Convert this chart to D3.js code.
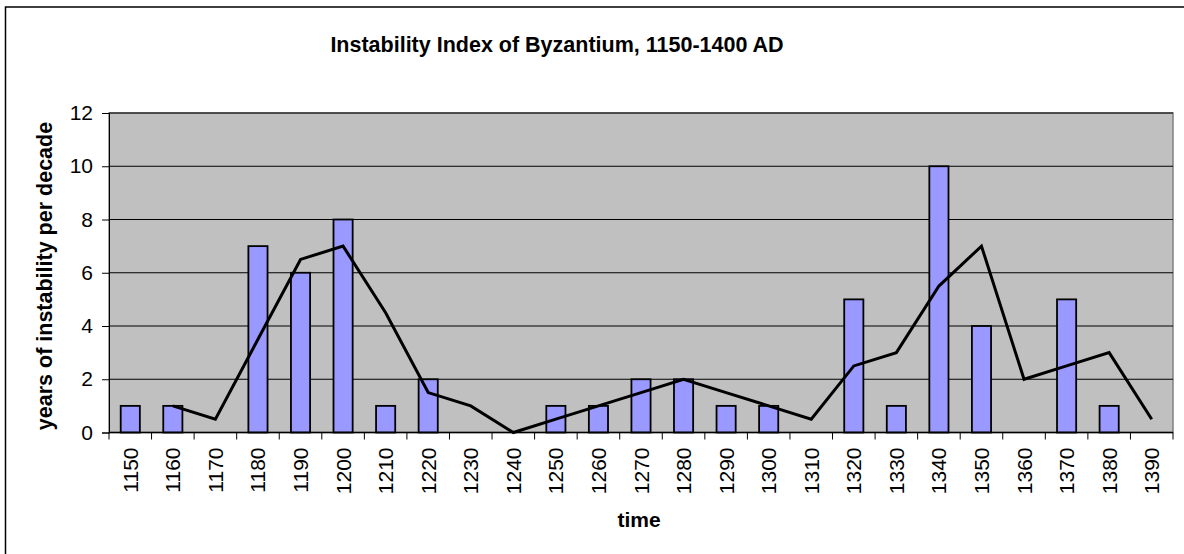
<!DOCTYPE html>
<html>
<head>
<meta charset="utf-8">
<script src="https://cdn.jsdelivr.net/npm/d3@7"></script>
<style>
  body { margin: 0; background: #fff; }
  svg text { font-family: "Liberation Sans", Arial, sans-serif; fill: #000; }
</style>
</head>
<body>
<div id="chart"></div>
<script>
const decades = ["1150", "1160", "1170", "1180", "1190", "1200", "1210", "1220", "1230", "1240",
                 "1250", "1260", "1270", "1280", "1290", "1300", "1310", "1320", "1330", "1340",
                 "1350", "1360", "1370", "1380", "1390"];
const instability = [1, 1, 0, 7, 6, 8, 1, 2, 0, 0, 1, 1, 2, 2, 1, 1, 0, 5, 1, 10, 4, 0, 5, 1, 0];
// two-decade moving average, as drawn in the picture (no point for 1150)
const trend = [null, 1, 0.5, 3.5, 6.5, 7, 4.5, 1.5, 1, 0, 0.5, 1, 1.5, 2, 1.5, 1, 0.5, 2.5, 3, 5.5, 7, 2, 2.5, 3, 0.5];
const yTicks = [0, 2, 4, 6, 8, 10, 12];

const width = 1184;
const height = 554;
const plot = { left: 109, right: 1173, top: 113, bottom: 432.5 };

const svg = d3.select("#chart")
    .append("svg")
    .attr("width", width)
    .attr("height", height);

// outer chart border (only top and left fall inside the picture)
svg.append("rect")
    .attr("x", 5.5).attr("y", 7)
    .attr("width", width + 10).attr("height", height + 10)
    .attr("fill", "#fff")
    .attr("stroke", "#000")
    .attr("stroke-width", 1.5);

const xScale = d3.scaleBand()
    .domain(decades)
    .range([plot.left, plot.right])
    .paddingInner(0.55)
    .paddingOuter(0.275);

const xBand = d3.scaleBand()
    .domain(decades)
    .range([plot.left, plot.right])
    .padding(0);

const yScale = d3.scaleLinear()
    .domain([0, 12])
    .range([plot.bottom, plot.top]);

// plot area
svg.append("rect")
    .attr("x", plot.left).attr("y", plot.top)
    .attr("width", plot.right - plot.left)
    .attr("height", plot.bottom - plot.top)
    .attr("fill", "#c0c0c0")
    .attr("stroke", "#808080")
    .attr("stroke-width", 1.5);

// gridlines
svg.append("g")
    .selectAll("line")
    .data(yTicks.filter(d => d > 0))
    .enter()
    .append("line")
    .attr("x1", plot.left).attr("x2", plot.right)
    .attr("y1", d => yScale(d)).attr("y2", d => yScale(d))
    .attr("stroke", "#000")
    .attr("stroke-width", 1);

// bars
svg.append("g")
    .selectAll("rect")
    .data(instability.map((v, i) => ({ decade: decades[i], value: v })).filter(d => d.value > 0))
    .enter()
    .append("rect")
    .attr("x", d => xScale(d.decade))
    .attr("y", d => yScale(d.value))
    .attr("width", xScale.bandwidth())
    .attr("height", d => yScale(0) - yScale(d.value))
    .attr("fill", "#9999ff")
    .attr("stroke", "#000")
    .attr("stroke-width", 1.8);

// trend line
const line = d3.line()
    .defined(d => d.value !== null)
    .x(d => xBand(d.decade) + xBand.bandwidth() / 2)
    .y(d => yScale(d.value));

svg.append("path")
    .datum(trend.map((v, i) => ({ decade: decades[i], value: v })))
    .attr("d", line)
    .attr("fill", "none")
    .attr("stroke", "#000")
    .attr("stroke-width", 3)
    .attr("stroke-linejoin", "miter");

// y axis
const yAxis = d3.axisLeft(yScale).tickValues(yTicks).tickSize(7).tickPadding(9);
const gy = svg.append("g")
    .attr("transform", "translate(" + plot.left + ",0)")
    .call(yAxis);
gy.selectAll("text").style("font-size", "21px");

// x axis: ticks at category boundaries
const boundaries = decades.map(d => xBand(d)).concat([plot.right]);
const gx = svg.append("g");
gx.append("line")
    .attr("x1", plot.left).attr("x2", plot.right)
    .attr("y1", plot.bottom).attr("y2", plot.bottom)
    .attr("stroke", "#000").attr("stroke-width", 1.5);
gx.selectAll("line.tick")
    .data(boundaries)
    .enter()
    .append("line")
    .attr("class", "tick")
    .attr("x1", d => d).attr("x2", d => d)
    .attr("y1", plot.bottom).attr("y2", plot.bottom + 7)
    .attr("stroke", "#000").attr("stroke-width", 1);
gx.selectAll("text")
    .data(decades)
    .enter()
    .append("text")
    .attr("transform", d => "translate(" + (xBand(d) + xBand.bandwidth() / 2 + 7.5) + "," + (plot.bottom + 15) + ") rotate(-90)")
    .attr("text-anchor", "end")
    .style("font-size", "21px")
    .text(d => d);

// titles
svg.append("text")
    .attr("x", 557).attr("y", 52)
    .attr("text-anchor", "middle")
    .style("font-size", "21.5px")
    .style("font-weight", "bold")
    .text("Instability Index of Byzantium, 1150-1400 AD");

svg.append("text")
    .attr("x", 639).attr("y", 527)
    .attr("text-anchor", "middle")
    .style("font-size", "21px")
    .style("font-weight", "bold")
    .text("time");

svg.append("text")
    .attr("transform", "translate(52,276) rotate(-90)")
    .attr("text-anchor", "middle")
    .style("font-size", "21.5px")
    .style("font-weight", "bold")
    .text("years of instability per decade");
</script>
</body>
</html>
